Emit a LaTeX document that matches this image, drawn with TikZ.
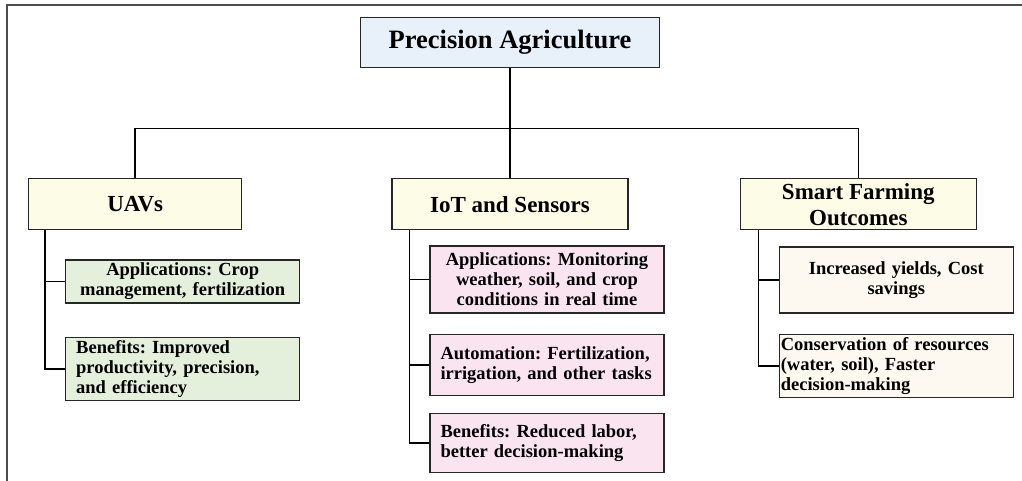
\documentclass[tikz,border=0pt]{standalone}
\usepackage{fontspec}
\setmainfont{Liberation Serif}
\frenchspacing
\usepackage{tikz}
\usetikzlibrary{positioning, calc}
\definecolor{rootfill}{HTML}{E8F0FA}
\definecolor{headfill}{HTML}{FDFCE6}
\definecolor{greenfill}{HTML}{E4EFDC}
\definecolor{pinkfill}{HTML}{FAE4F0}
\definecolor{beigefill}{HTML}{FDF8F0}
\tikzset{
    box/.style={draw=black!85, line width=1.3pt, font=\bfseries},
    head/.style={box, fill=headfill, minimum width=213pt, minimum height=51pt, inner sep=1pt, align=center, font=\bfseries\fontsize{23}{26}\selectfont},
    leaf/.style={box, text width=213pt, inner xsep=10.5pt, inner ysep=3pt, font=\bfseries\fontsize{18.5}{20}\selectfont},
    link/.style={line width=1.6pt}
}

\begin{document}
\begin{tikzpicture}[x=1pt, y=-1pt]
    \useasboundingbox (0,0) rectangle (1022,481);
    \draw[gray!60!black, line width=1.6pt] (1022,5) -- (7,5) -- (7,481);
    \node[box, fill=rootfill, minimum width=299pt, minimum height=50pt, font=\bfseries\fontsize{26.5}{30}\selectfont] (P) at (510,42.5) {Precision Agriculture};
    \node[head, minimum width=236pt, below=110pt of P] (I) {IoT and Sensors};
    \node[head, left=149pt of I] (U) {UAVs};
    \node[head, minimum width=236pt, right=111pt of I] (S) {Smart Farming\\Outcomes};
    \node[leaf, fill=greenfill, align=center, minimum height=40pt, below right=29pt and 37pt of U.south west] (U1) {Applications: Crop\\management, fertilization};
    \node[leaf, fill=greenfill, align=left, minimum height=61pt, below=33pt of U1] (U2) {Benefits: Improved\\productivity, precision,\\and efficiency};
    \node[leaf, fill=pinkfill, align=center, minimum height=67pt, below right=15pt and 38pt of I.south west] (I1) {Applications: Monitoring\\weather, soil, and crop\\conditions in real time};
    \node[leaf, fill=pinkfill, align=left, minimum height=61pt, below=20pt of I1] (I2) {Automation: Fertilization,\\irrigation, and other tasks};
    \node[leaf, fill=pinkfill, align=left, minimum height=59pt, below=17pt of I2] (I3) {Benefits: Reduced labor,\\better decision-making};
    \node[leaf, fill=beigefill, align=center, minimum height=66pt, below right=16pt and 39pt of S.south west] (S1) {Increased yields, Cost\\savings};
    \node[leaf, fill=beigefill, align=left, text width=231pt, inner xsep=1.5pt, minimum height=61pt, below=20pt of S1] (S2) {Conservation of resources\\(water, soil), Faster\\decision-making};
    \coordinate (bus) at ($(P.south)!0.55!(I.north)$);
    \coordinate (Ut) at ([xshift=17pt]U.south west);
    \coordinate (It) at ([xshift=18pt]I.south west);
    \coordinate (St) at ([xshift=19pt]S.south west);
    \draw[link]
        (P.south) -- (I.north)
        (U.north) |- (bus) -| (S.north)
        (Ut) |- (U1.west) (Ut) |- (U2.west)
        (It) |- (I1.west) (It) |- (I2.west) (It) |- (I3.west)
        (St) |- (S1.west) (St) |- (S2.west);
\end{tikzpicture}
\end{document}
